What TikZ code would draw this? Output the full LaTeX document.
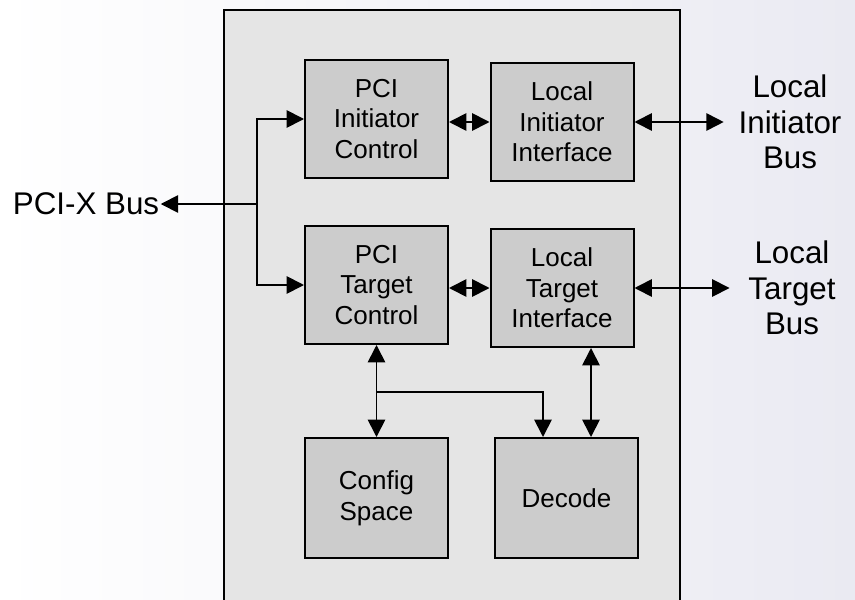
\documentclass[tikz,border=0pt]{standalone}
\usepackage{fontspec}
\setmainfont{Liberation Sans}
\usetikzlibrary{arrows.meta}

\definecolor{outerfill}{HTML}{E5E5E5}
\definecolor{blockfill}{HTML}{CCCCCC}
\definecolor{bgright}{HTML}{EAEAF2}

\tikzset{
  block/.style={draw, line width=1.5pt, fill=blockfill, align=center,
    minimum width=107.25pt, minimum height=88.5pt, inner sep=2pt,
    font=\fontsize{19.5}{23}\selectfont},
  buslabel/.style={align=center, inner sep=1pt,
    font=\fontsize{23.5}{26.5}\selectfont},
  tip/.tip={Triangle[length=13pt,width=13pt]},
  arr/.style={-tip, line width=1.3pt},
  biarr/.style={tip-tip, line width=1.3pt}
}

\begin{document}
\begin{tikzpicture}[x=0.75pt, y=-0.75pt]

  % --- Page and background ---
  \useasboundingbox (0,0) rectangle (855,599);
  \clip (0,0) rectangle (855,599);
  \shade[left color=white, right color=bgright] (0,0) rectangle (855,599);
  \draw[line width=1.5pt, fill=outerfill] (224,10) rectangle (680,640);

  % --- Define nodes ---
  \node[block] (pci_init) at (376.5,119) {PCI\\Initiator\\Control};
  \node[block] (loc_init) at (562,122) {Local\\Initiator\\Interface};
  \node[block] (pci_tgt) at (376.5,285) {PCI\\Target\\Control};
  \node[block] (loc_tgt) at (562,288) {Local\\Target\\Interface};
  \node[block, minimum height=90pt] (cfg) at (376.5,498) {Config\\Space};
  \node[block, minimum height=90pt] (dec) at (566.5,498) {Decode};

  \node[buslabel] (pcix) at (86,204) {PCI-X Bus};
  \node[buslabel] (init_bus) at (790,122) {Local\\Initiator\\Bus};
  \node[buslabel] (tgt_bus) at (792,288) {Local\\Target\\Bus};

  % --- Branch points ---
  \coordinate (split) at (257,204);
  \coordinate (tap) at (376.5,392);
  \coordinate (dtap) at (543,392);
  \coordinate (rtap) at (591,392);

  % --- PCI-X side ---
  \draw[arr] (split) -- (pcix.east);
  \draw[arr] (split) |- (pci_init.west);
  \draw[arr] (split) |- (pci_tgt.west);

  % --- Between blocks ---
  \draw[biarr] (loc_init.west -| pci_init.east) -- (loc_init.west);
  \draw[biarr] (loc_tgt.west -| pci_tgt.east) -- (loc_tgt.west);

  % --- Local busses ---
  \draw[biarr, shorten >=10pt] (loc_init.east) -- (init_bus.west);
  \draw[biarr, shorten >=13pt] (loc_tgt.east) -- (tgt_bus.west);

  % --- Lower part ---
  \draw[biarr] (pci_tgt.south) -- (cfg.north);
  \draw[arr] (tap) -| (dec.north -| dtap);
  \draw[biarr] (loc_tgt.south -| rtap) -- (dec.north -| rtap);

\end{tikzpicture}
\end{document}
